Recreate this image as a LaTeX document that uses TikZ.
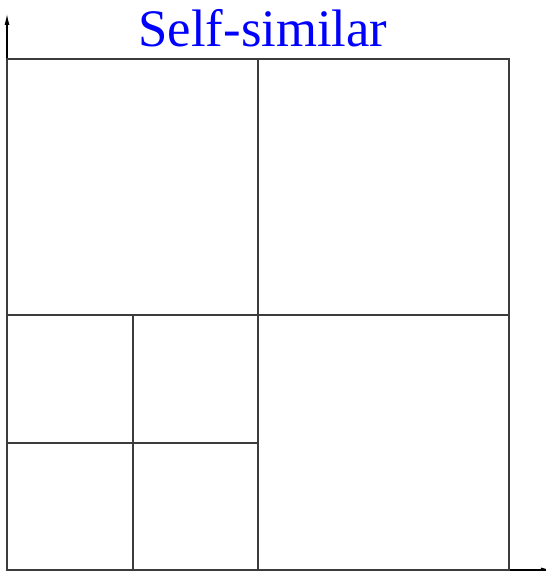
\documentclass[tikz,border=0pt]{standalone}
\usepackage{fontspec}
\setmainfont{Liberation Serif}
\usepackage{xcolor}
\usetikzlibrary{arrows.meta}
\definecolor{figline}{RGB}{60,60,60}
\definecolor{figaxis}{RGB}{0,0,0}
\definecolor{figtitle}{RGB}{0,0,255}
\tikzset{
  cell/.style ={draw=figline, line width=0.6pt},
  axis/.style ={draw=figaxis, line width=0.6pt, -{Latex[length=0.22cm,width=0.1cm]}},
  ttl/.style  ={font=\fontsize{30}{30}\selectfont, text=figtitle, inner sep=0pt},
}
\begin{document}
\begin{tikzpicture}
  \useasboundingbox (-0.14,-0.02) rectangle (10.78,11.4);
  % axes
  \draw[axis] (0,-0.02) -- (0,11.12);
  \draw[axis] (0,0) -- (10.9,0);
  % outer square and halves
  \draw[cell] (0,0) rectangle (10.04,10.22);
  \draw[cell] (5.02,0) -- (5.02,10.22);
  \draw[cell] (0,5.1) -- (10.04,5.1);
  % lower left quarter split again
  \draw[cell] (2.52,0) -- (2.52,5.1);
  \draw[cell] (0,2.54) -- (5.02,2.54);
  \node[ttl,anchor=base] (title) at (5.12,10.46) {Self-similar};
\end{tikzpicture}
\end{document}
